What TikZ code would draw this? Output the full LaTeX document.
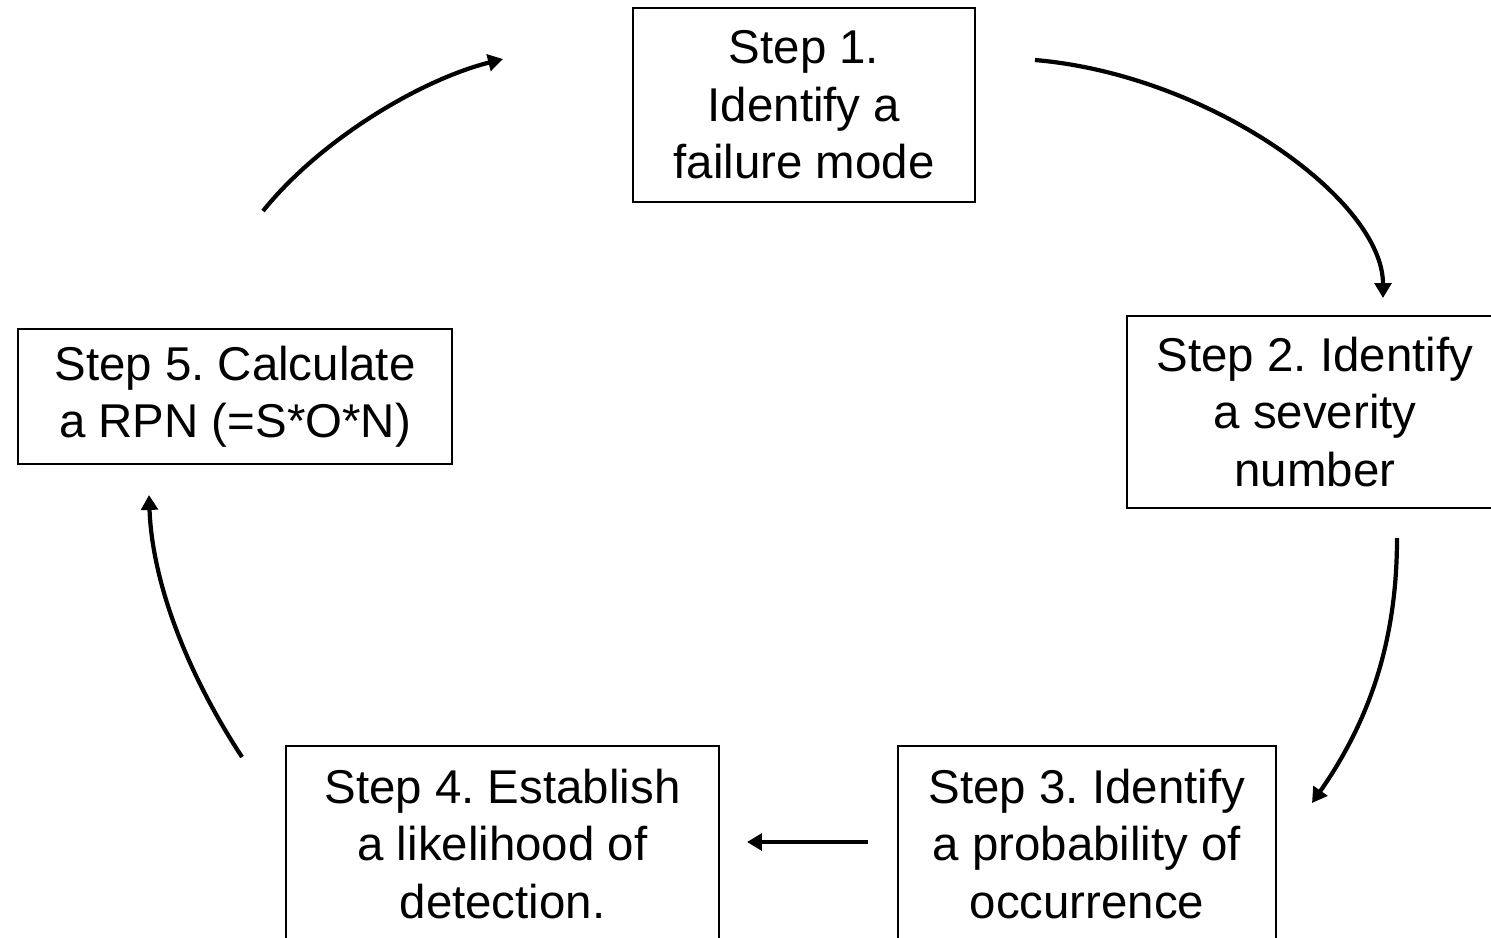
\documentclass[tikz,border=0pt]{standalone}
\usepackage{fontspec}
\setmainfont{Liberation Sans}
\frenchspacing
\usetikzlibrary{arrows.meta}
\begin{document}
\begin{tikzpicture}[x=0.02cm, y=-0.02cm, box_style/.style={draw=black, line width=0.85pt, align=center, inner sep=0pt, font=\fontsize{27}{32.7}\selectfont}, arrow_style/.style={draw=black, line width=2.4pt, -{Triangle[length=8.5pt,width=9.5pt]}}]
      \useasboundingbox (0,0) rectangle (1491,937);
      \clip (0,0) rectangle (1491,937);
      \draw
        (804.0, 105.0) node[box_style, minimum width=6.84cm, minimum height=3.88cm] (s1){Step 1.\\Identify a\\failure mode}
        (1315.0, 412.0) node[box_style, minimum width=7.52cm, minimum height=3.84cm] (s2){Step 2. Identify\\a severity\\number}
        (1087.0, 844.0) node[box_style, minimum width=7.56cm, minimum height=3.92cm] (s3){Step 3. Identify\\a probability of\\occurrence}
        (502.5, 844.0) node[box_style, minimum width=8.66cm, minimum height=3.92cm] (s4){Step 4. Establish\\a likelihood of\\detection.}
        (235.0, 396.5) node[box_style, minimum width=8.68cm, minimum height=2.70cm] (s5){Step 5. Calculate\\a RPN (=S*O*N)};
      \coordinate (a1) at (1035, 60);
      \coordinate (b1) at (1383, 298);
      \coordinate (a2) at (1397, 538);
      \coordinate (b2) at (1312, 803);
      \coordinate (a3) at (868, 842);
      \coordinate (b3) at (747, 842);
      \coordinate (a4) at (242, 757);
      \coordinate (b4) at (149, 495);
      \coordinate (a5) at (263, 211);
      \coordinate (b5) at (503, 59);
      \begin{scope}
        \draw[arrow_style] (a1) .. controls (1210, 75) and (1383, 200) .. (b1);
        \draw[arrow_style] (a2) .. controls (1397, 640) and (1370, 720) .. (b2);
        \draw[arrow_style] (a3) -- (b3);
        \draw[arrow_style] (a4) .. controls (185, 670) and (152, 580) .. (b4);
        \draw[arrow_style] (a5) .. controls (320, 140) and (420, 80) .. (b5);
      \end{scope}
    \end{tikzpicture}
\end{document}
